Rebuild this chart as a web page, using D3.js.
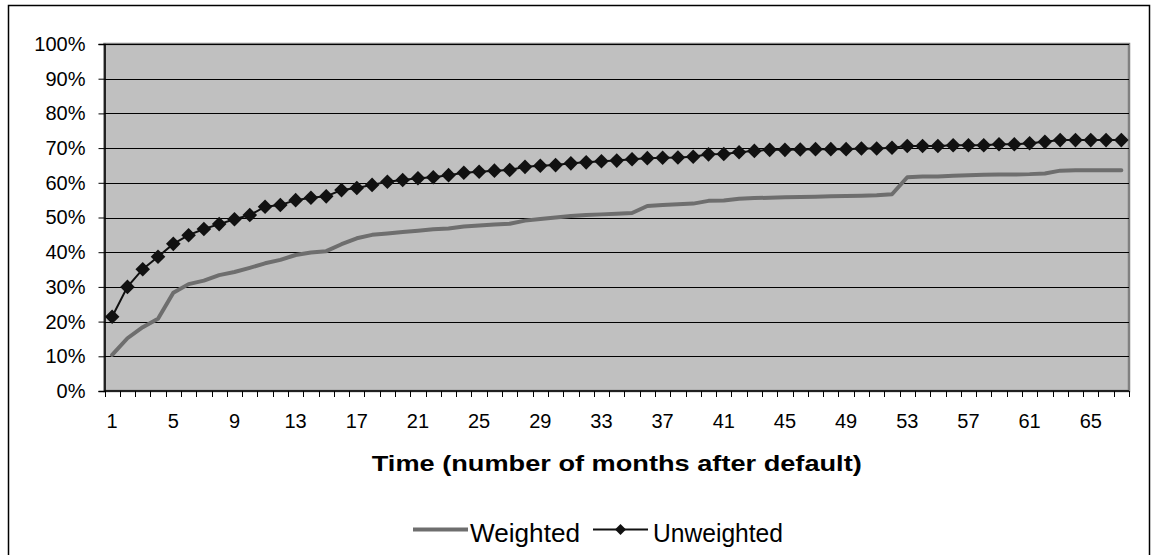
<!DOCTYPE html>
<html>
<head>
<meta charset="utf-8">
<script src="https://cdn.jsdelivr.net/npm/d3@7"></script>
<style>
  html, body { margin: 0; padding: 0; background: #fff; }
  svg { display: block; font-family: Arial, "Liberation Sans", sans-serif; }
</style>
</head>
<body>
<svg id="chart" width="1154" height="555"></svg>
<script>
const months = d3.range(1, 68);
const weighted = [10.4,15.2,18.4,20.8,28.3,30.8,31.8,33.4,34.3,35.5,36.8,37.8,39.2,39.9,40.3,42.3,44.0,45.0,45.4,45.8,46.2,46.6,46.8,47.4,47.7,48.0,48.2,49.1,49.6,50.0,50.4,50.7,50.9,51.1,51.3,53.3,53.6,53.8,54.0,54.8,54.9,55.4,55.6,55.7,55.8,55.9,56.0,56.1,56.2,56.3,56.4,56.7,61.6,61.8,61.8,62.0,62.2,62.3,62.4,62.4,62.5,62.7,63.5,63.6,63.6,63.6,63.6];
const unweighted = [21.4,30.0,35.1,38.7,42.4,44.9,46.7,48.1,49.5,50.7,53.1,53.6,55.0,55.7,56.1,57.9,58.5,59.4,60.3,60.8,61.3,61.6,62.2,62.9,63.2,63.5,63.7,64.6,64.9,65.1,65.6,65.9,66.2,66.4,66.8,67.1,67.2,67.3,67.5,68.2,68.3,68.8,69.2,69.5,69.5,69.6,69.7,69.7,69.7,69.9,69.9,70.1,70.6,70.6,70.6,70.8,70.8,70.8,71.1,71.1,71.4,71.8,72.3,72.3,72.3,72.3,72.3];
const yTicks = [0,10,20,30,40,50,60,70,80,90,100];
const xTickLabels = months.filter(m => (m - 1) % 4 === 0);
const seriesNames = ["Weighted", "Unweighted"];
const xTitle = "Time (number of months after default)";

const svg = d3.select("#chart");
const L = 104.5, R = 1129, T = 44, B = 391;

svg.append("rect").attr("x", 0).attr("y", 0).attr("width", 1154).attr("height", 555).attr("fill", "#fff");
svg.append("rect").attr("x", 8.5).attr("y", 5.5).attr("width", 1141).attr("height", 570)
  .attr("fill", "none").attr("stroke", "#000").attr("stroke-width", 1.5);

const x = d3.scaleBand().domain(months).range([L, R]).padding(0);
const cx = d => x(d) + x.bandwidth() / 2;
const y = d3.scaleLinear().domain([0, 100]).range([B, T]);

// plot background
svg.append("rect").attr("x", L).attr("y", T).attr("width", R - L).attr("height", B - T)
  .attr("fill", "#C0C0C0").attr("stroke", "#808080").attr("stroke-width", 2.5);

// gridlines
svg.append("g").selectAll("line").data(yTicks.filter(v => v > 0)).join("line")
  .attr("x1", L).attr("x2", R)
  .attr("y1", d => Math.round(y(d)) + 0.5).attr("y2", d => Math.round(y(d)) + 0.5)
  .attr("stroke", "#000").attr("stroke-width", 1);

// y axis
const yAxis = d3.axisLeft(y).tickValues(yTicks).tickFormat(d => d + "%").tickSize(6).tickPadding(13);
const gy = svg.append("g").attr("transform", `translate(${L},0)`).call(yAxis);
gy.select(".domain").attr("stroke", "#000").attr("stroke-width", 1.5);
gy.selectAll(".tick line").attr("stroke", "#000");
gy.selectAll(".tick text").attr("font-size", 20).attr("fill", "#000").attr("font-family", "Arial, 'Liberation Sans', sans-serif");

// x axis: ticks at band boundaries
const boundaries = months.map(m => x(m)).concat([R]);
svg.append("line").attr("x1", L).attr("x2", R).attr("y1", B).attr("y2", B).attr("stroke", "#000").attr("stroke-width", 1.5);
svg.append("g").selectAll("line").data(boundaries).join("line")
  .attr("x1", d => Math.round(d) + 0.5).attr("x2", d => Math.round(d) + 0.5)
  .attr("y1", B).attr("y2", B + 6).attr("stroke", "#000");
svg.append("g").selectAll("text").data(xTickLabels).join("text")
  .attr("x", d => cx(d)).attr("y", 428).attr("text-anchor", "middle")
  .attr("font-size", 20).text(d => d);

// x title
svg.append("text").attr("x", (L + R) / 2).attr("y", 471).attr("text-anchor", "middle")
  .attr("font-size", 22).attr("font-weight", "bold")
  .attr("textLength", 490).attr("lengthAdjust", "spacingAndGlyphs").text(xTitle);

// weighted line
const line = d3.line().x((d, i) => cx(months[i])).y(d => y(d));
svg.append("path").datum(weighted).attr("d", line)
  .attr("fill", "none").attr("stroke", "#6E6E6E").attr("stroke-width", 4).attr("stroke-linejoin", "round").attr("stroke-linecap", "round");

// unweighted line + markers
svg.append("path").datum(unweighted).attr("d", line)
  .attr("fill", "none").attr("stroke", "#111").attr("stroke-width", 2);
const diamond = (h) => `M0,${-h}L${h},0L0,${h}L${-h},0Z`;
svg.append("g").selectAll("path").data(unweighted).join("path")
  .attr("transform", (d, i) => `translate(${cx(months[i])},${y(d)})`)
  .attr("d", diamond(7.3)).attr("fill", "#111");

// legend
const lg = svg.append("g");
lg.append("line").attr("x1", 413).attr("x2", 468).attr("y1", 529.5).attr("y2", 529.5)
  .attr("stroke", "#6E6E6E").attr("stroke-width", 4);
lg.append("text").attr("x", 470).attr("y", 541.5).attr("font-size", 25)
  .attr("textLength", 110).attr("lengthAdjust", "spacingAndGlyphs").text(seriesNames[0]);
lg.append("line").attr("x1", 593).attr("x2", 648).attr("y1", 529.5).attr("y2", 529.5)
  .attr("stroke", "#111").attr("stroke-width", 2);
lg.append("path").attr("transform", "translate(620.5,529.5)").attr("d", diamond(5.5)).attr("fill", "#111");
lg.append("text").attr("x", 653).attr("y", 541.5).attr("font-size", 25)
  .attr("textLength", 130).attr("lengthAdjust", "spacingAndGlyphs").text(seriesNames[1]);
</script>
</body>
</html>
